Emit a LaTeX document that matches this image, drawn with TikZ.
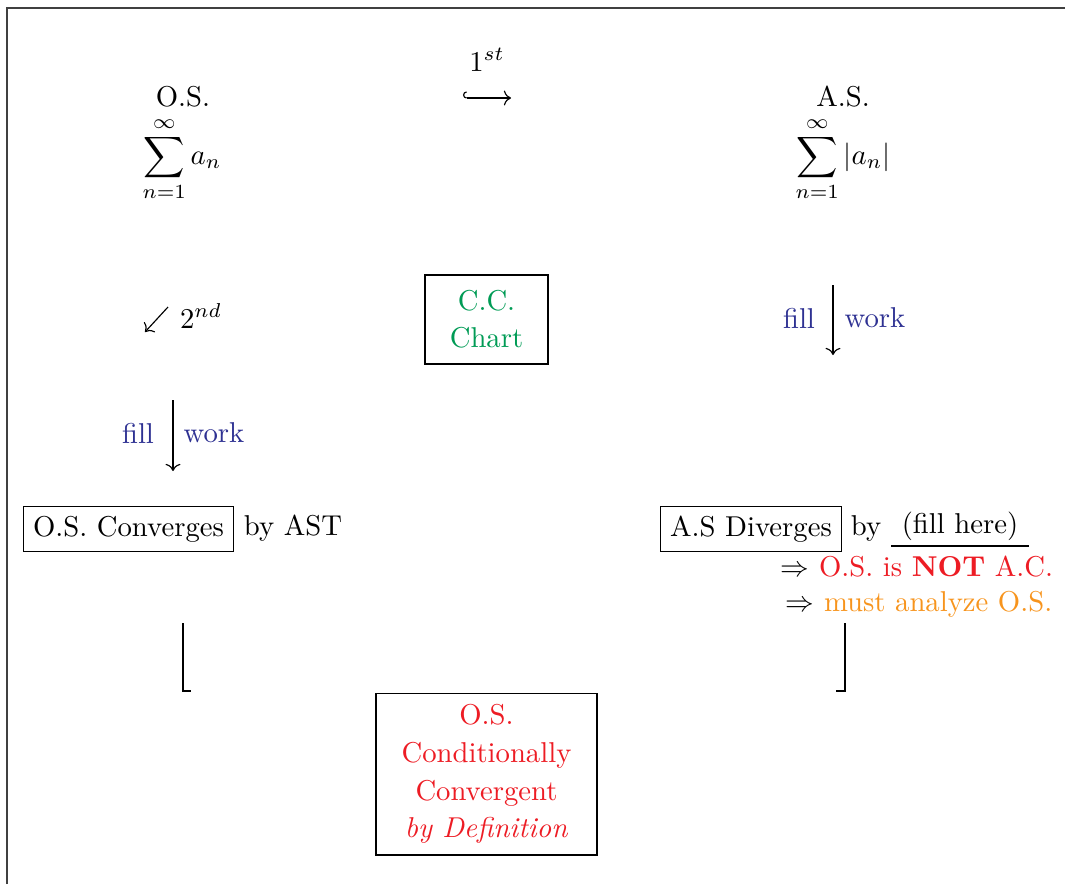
\documentclass[tikz,border=0pt]{standalone}
\usetikzlibrary{arrows.meta}
\definecolor{myblue}{RGB}{46,49,146}
\definecolor{myred}{RGB}{237,28,36}
\definecolor{myorange}{RGB}{247,148,29}
\definecolor{mygreen}{RGB}{0,155,85}
\tikzset{
  box/.style={draw,line width=0.4pt,inner sep=3.33pt},
  bluetxt/.style={text=myblue,inner sep=0pt},
  plain/.style={inner sep=0pt},
  arr/.style={line width=0.4pt,-{Computer Modern Rightarrow}},
  brk/.style={line width=0.6pt},
}
\begin{document}
\begin{tikzpicture}[x=0.3484pt,y=-0.3484pt]
\useasboundingbox (0,0) rectangle (1065,884);
\draw[line width=0.6pt,black!75] (7,884) -- (7,8) -- (1065,8);
% top row
\node[plain] (oslab) at (183,97) {O.S.};
\node[plain] (ossum) at (182,159) {$\displaystyle\sum_{n=1}^{\infty} a_n$};
\node[plain] (first) at (487,60) {$1^{st}$};
\coordinate (h1) at (463,98);
\coordinate (h2) at (511,98);
\draw[line width=0.4pt,{Hooks[right]}-{Computer Modern Rightarrow}] (h1) -- (h2);
\node[plain] (aslab) at (843,97) {A.S.};
\node[plain] (assum) at (843,159) {$\displaystyle\sum_{n=1}^{\infty} |a_n|$};
% second row
\coordinate (s1) at (168,307);
\coordinate (s2) at (145,332);
\draw[arr] (s1) -- (s2);
\node[plain] (second) at (201,316) {$2^{nd}$};
\node[box,text=mygreen,align=center,minimum width=42.85pt,minimum height=31pt] (cc) at (486.5,319.5) {C.C.\\[1pt]Chart};
\coordinate (r1) at (833,285);
\coordinate (r2) at (833,355);
\draw[arr] (r1) -- (r2);
\node[bluetxt] (rfill) at (799,318) {fill};
\node[bluetxt] (rwork) at (875,318) {work};
\coordinate (l1) at (173,400);
\coordinate (l2) at (173,471);
\draw[arr] (l1) -- (l2);
\node[bluetxt] (lfill) at (138,433) {fill};
\node[bluetxt] (lwork) at (214,433) {work};
% third row
\node[box] (osc) at (128.5,529) {O.S. Converges};
\node[plain] (byast) at (293,528) {by AST};
\node[box] (asd) at (751,529) {A.S Diverges};
\node[plain] (by) at (866,528) {by};
\node[plain] (fillhere) at (960,526) {(fill here)};
\coordinate (u1) at (891,546);
\coordinate (u2) at (1029,546);
\draw[line width=0.4pt] (u1) -- (u2);
\node[plain] (notac) at (917,567) {$\Rightarrow$ \textcolor{myred}{O.S. is \textbf{NOT} A.C.}};
\node[plain] (must) at (919,604) {$\Rightarrow$ \textcolor{myorange}{must analyze O.S.}};
% brackets
\coordinate (b1) at (183,623);
\coordinate (b2) at (183,691);
\coordinate (b3) at (191,691);
\draw[brk] (b1) -- (b2) -- (b3);
\coordinate (c1) at (845,623);
\coordinate (c2) at (845,691);
\coordinate (c3) at (836,691);
\draw[brk] (c1) -- (c2) -- (c3);
% bottom box
\node[box,text=myred,align=center,minimum width=77pt,minimum height=56.4pt] (cond) at (486.5,774)
  {O.S.\\[1.1pt]Conditionally\\[1.1pt]Convergent\\[1.1pt]\textit{by Definition}};
\end{tikzpicture}
\end{document}
